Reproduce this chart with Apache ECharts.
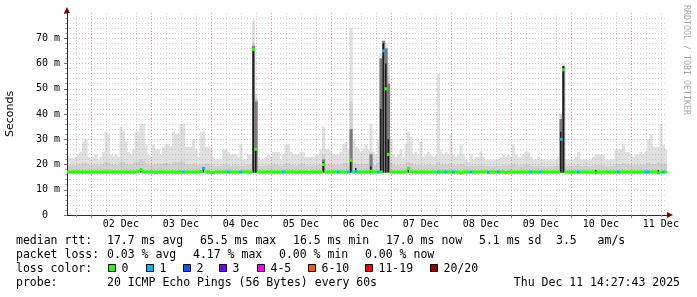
<!DOCTYPE html>
<html><head><meta charset="utf-8">
<script src="https://cdn.jsdelivr.net/npm/echarts@6/dist/echarts.min.js"></script>
<style>html,body{margin:0;padding:0;background:#fff}#c{width:697px;height:297px}</style>
</head><body><div id="c"></div>
<script>
// ---------------- data ----------------
// time axis: hours after 01 Dec 00:00; graph ends Thu Dec 11 14:27:43, spans 10 days
const START = 14 + 27/60 + 43/3600;
const SPAN = 240;
const dayLabels = ['02 Dec','03 Dec','04 Dec','05 Dec','06 Dec','07 Dec','08 Dec','09 Dec','10 Dec','11 Dec'];
const yLabels = ['0  ','10 m','20 m','30 m','40 m','50 m','60 m','70 m'];

// lower edge of the smoke (ms)
const smokeFloor = 16.8;
// hourly upper edge of the light smoke (ms)
const smokeUpper = [
23,22.5,22,23,24,25,29,30,23,22,
23,24,22,23,25,33,32,24,23,24,
23,35,33,29,25,24,26,33,33,36,
36,28,24,23,28,26,26,24,27,28,
28,27,33,32,32,36,36,27,27,27,
30,26,23,33,33,27,27,26,23,22,
22,22,26,26,25,24,24,24,23,28,
22,22,24,24,77,48,23,22,22,23,
24,23,25,25,25,22,24,28,28,25,
24,24,24,25,25,23,23,23,23,24,
24,26,35,26,26,25,24,24,24,25,
28,29,26,74,30,27,26,25,26,28,
26,36,25,24,30,64,69,68,60,30,
24,23,24,26,23,28,33,31,24,25,
24,29,23,24,25,24,23,24,56,26,
24,25,24,32,24,23,24,28,24,22,
21,24,22,23,23,25,23,22,22,21.7,
21.7,22,22,23,24,23,24,23,28,24,
23,23,24,25,25,23,22,22,23,22,
22,21.7,21.7,22,21.7,22,23,38,60,22,
22,22,22,23,25,22,22,22,21.7,22,
23,24,24,24,24,22,21.7,22,22,26,
26,26,28,25,25,24,23,24,24,25,
24,25,30,32,27,27,27,36,28,26
];
// hourly upper edge of the denser smoke near the median (ms)
const smokeMid = [
19.6,19.4,19.8,19.6,20.0,20.2,20.8,20.6,19.8,19.6,
19.8,20.0,19.6,19.8,20.2,21.0,20.8,20.0,19.8,20.0,
19.8,21.2,21.0,20.4,20.0,19.8,20.4,21.0,21.2,22.0,
21.6,20.4,19.8,19.6,19.8,20.2,20.4,20.0,20.4,20.6,
20.4,20.2,20.8,21.0,21.0,21.4,21.2,20.2,20.0,20.0,
20.4,19.8,19.6,19.8,20.0,20.4,20.2,20.0,19.6,19.4,
19.4,19.6,20.0,20.0,19.8,19.6,19.6,19.8,19.6,19.4,
19.4,19.6,19.8,20.0,68.0,46.0,19.6,19.4,19.4,19.6,
19.8,19.6,20.0,20.0,19.8,19.4,19.8,20.4,20.4,19.8,
19.8,19.6,19.8,20.0,20.0,19.6,19.6,19.6,19.6,19.8,
19.8,20.2,24.0,20.2,20.2,20.0,19.8,19.8,19.8,20.0,
20.4,20.6,20.2,45.0,20.6,20.2,20.2,20.0,20.2,20.4,
20.2,25.0,20.0,19.8,21.0,62.0,69.0,66.0,55.0,21.0,
19.8,19.6,19.8,20.0,19.6,20.2,21.0,20.6,19.8,19.8,
19.8,19.8,19.6,19.8,20.0,19.8,19.6,19.8,21.0,20.0,
19.8,20.0,19.8,20.6,19.8,19.6,19.8,20.2,19.8,19.4,
19.2,19.6,19.4,19.6,19.6,19.8,19.6,19.4,19.4,19.2,
19.2,19.4,19.4,19.6,19.8,19.6,19.8,19.6,20.2,19.8,
19.6,19.6,19.8,20.0,20.0,19.6,19.4,19.4,19.6,19.4,
19.4,19.2,19.2,19.4,19.2,19.4,19.6,40.0,59.0,19.4,
19.4,19.4,19.4,19.6,19.8,19.4,19.4,19.4,19.2,19.4,
19.6,19.8,19.8,19.8,19.8,19.4,19.2,19.4,19.4,20.0,
20.2,20.2,20.6,20.0,20.0,19.8,19.6,19.8,19.8,20.0,
19.8,20.0,20.6,20.2,20.2,20.2,20.8,20.2,20.4,20.0
];
// [hour index, top] of the deep grey smoke around the spikes
const smokeDeep = [[74,67],[75,45],[102,22],[113,34],[121,24],[125,62],[126,69],[127,66],[128,52],[197,38],[198,59]];
// [hour index, top] of the black core of the smoke
const smokeDark = [[29,18.6],[54,19.0],[74,65.5],[75,26],[102,21],[113,22],[115,18.6],[121,19.2],[125,42],[126,68],[127,60],[128,30],[136,19],[197,33],[198,59],[211,17.8],[236,17.8]];
// hourly median rtt (ms)
const medianRtt = [
17.0,17.0,17.0,17.0,17.0,17.0,17.0,17.0,17.0,17.0,
17.0,17.0,17.0,17.0,17.0,17.0,17.0,17.0,17.0,17.0,
17.0,17.0,17.0,17.0,17.0,17.0,17.0,17.0,17.2,18.0,
17.0,17.0,17.0,17.0,17.0,16.9,17.0,17.0,17.0,17.0,
17.0,17.0,17.0,16.9,17.0,17.0,17.0,17.0,17.0,17.0,
17.0,17.0,17.0,17.2,18.4,17.0,17.0,16.8,16.8,17.0,
17.0,17.0,17.0,17.0,17.0,17.0,17.0,17.0,17.0,17.0,
17.0,17.0,17.0,17.0,65.5,26.0,17.0,17.0,17.0,17.0,
17.0,17.0,17.0,17.0,17.0,17.0,17.0,17.0,17.0,17.0,
17.0,16.9,17.0,17.0,17.0,17.0,16.9,17.0,17.0,17.0,
17.0,17.0,20.0,17.0,17.0,17.0,17.0,17.0,17.0,17.0,
17.0,17.0,17.0,21.7,17.0,17.2,17.0,17.0,17.0,17.0,
17.0,17.4,17.0,17.0,17.0,17.0,65.0,50.0,24.0,17.0,
17.0,17.0,17.0,17.0,17.0,17.0,18.4,17.2,17.0,17.0,
17.0,17.0,17.0,17.0,17.0,17.0,17.0,17.0,17.0,17.0,
17.0,17.0,17.0,17.0,17.0,17.0,17.0,16.7,17.0,17.0,
17.0,17.0,17.0,17.0,17.0,17.0,17.0,17.0,16.9,17.0,
17.0,17.0,17.0,17.0,17.0,16.8,17.0,17.0,17.0,17.0,
17.0,17.0,17.0,17.0,17.0,17.0,17.0,17.0,17.0,17.0,
17.0,17.0,17.0,17.0,17.0,17.0,17.0,30.0,57.5,17.0,
17.0,17.0,17.0,17.0,17.0,17.0,17.0,17.0,17.0,17.0,
17.0,16.7,17.0,17.0,17.0,17.0,17.0,17.0,17.0,17.0,
17.0,17.0,17.0,17.0,17.0,17.0,17.0,17.0,17.0,17.0,
17.0,17.0,17.0,17.0,17.0,17.0,16.7,17.0,17.0,17.0
];
// hours with lost pings: [hour index, loss class]
const lossPoints = [[46,1],[54,1],[64,1],[69,1],[86,1],[108,1],[112,1],[115,1],[124,1],[126,1],[148,1],[151,1],[154,1],[161,1],[168,1],[172,1],[185,1],[189,1],[197,1],[204,1],[220,1],[231,1],[232,1],[238,1]];
const lossColors = ['#26ff00','#00b8ff','#0059ff','#7e00ff','#ff00ff','#ff5500','#ff0000','#a10000'];
const lossLabels = ['0','1','2','3','4-5','6-10','11-19','20/20'];
const rttStats = ['17.7 ms avg','65.5 ms max','16.5 ms min','17.0 ms now','5.1 ms sd','3.5   am/s'];
const lossStats = ['0.03 % avg','4.17 % max','0.00 % min','0.00 % now'];
const probeText = '20 ICMP Echo Pings (56 Bytes) every 60s';
const dateText = 'Thu Dec 11 14:27:43 2025';

// ---------------- layout ----------------
const PLOT_L = 67, PLOT_T = 13, PLOT_W = 600, PLOT_H = 202;
const PXH = PLOT_W / SPAN;
const MONO = '"DejaVu Sans Mono", monospace';
const GRID_MINOR = 'rgba(150,150,150,0.42)';
const GRID_MAJOR = 'rgba(225,95,95,0.5)';
const AXIS_C = '#2a2a2a';
const ARROW_C = '#7f0000';

function gridFor(h0, h1) {
  return { left: PLOT_L + (h0 - START) * PXH, top: PLOT_T, width: (h1 - h0) * PXH, height: PLOT_H,
           containLabel: false, outerBoundsMode: 'none' };
}

const lossAt = medianRtt.map(() => 0);
lossPoints.forEach(([i, l]) => { lossAt[i] = l; });

function band(color, narrow) {
  return function (params, api) {
    const x0 = api.value(0), lo = api.value(1), hi = api.value(2);
    const p0 = api.coord([x0, lo]);
    const p1 = api.coord([x0 + 1, hi]);
    const w = p1[0] - p0[0];
    return { type: 'rect', shape: { x: p0[0] + (narrow ? w * 0.2 : 0), y: p1[1], width: narrow ? w * 0.6 : w + 0.6, height: p0[1] - p1[1] },
             style: { fill: color } };
  };
}

const chart = echarts.init(document.getElementById('c'), null, { renderer: 'canvas' });

const option = {
  backgroundColor: '#ffffff',
  animation: false,
  grid: [gridFor(START, START + SPAN), gridFor(18, 252), gridFor(24, 240), gridFor(36, 252)],
  xAxis: [
    { gridIndex: 0, type: 'value', min: START, max: START + SPAN, z: 2,
      axisLine: { show: true, lineStyle: { color: AXIS_C, width: 1 } },
      axisTick: { show: false }, axisLabel: { show: false }, splitLine: { show: false } },
    { gridIndex: 0, type: 'value', position: 'bottom', min: START, max: START + SPAN, z: 3,
      axisLine: { show: true, symbol: ['none', 'triangle'], symbolSize: [6, 6], symbolOffset: [0, 3],
                  lineStyle: { color: ARROW_C, width: 0 } },
      axisTick: { show: false }, axisLabel: { show: false }, splitLine: { show: false } },
    { gridIndex: 1, type: 'value', min: 18, max: 252, interval: 6, z: 2,
      axisLine: { show: false }, axisLabel: { show: false },
      axisTick: { show: true, length: 2, lineStyle: { color: '#999' } },
      splitLine: { show: true, lineStyle: { color: GRID_MINOR, type: [1, 2], width: 1 } } },
    { gridIndex: 2, type: 'value', min: 24, max: 240, interval: 24, z: 2,
      axisLine: { show: false }, axisLabel: { show: false },
      axisTick: { show: true, length: 3, lineStyle: { color: '#b06060' } },
      splitLine: { show: true, lineStyle: { color: GRID_MAJOR, type: [1, 2], width: 1 } } },
    { gridIndex: 3, type: 'value', min: 36, max: 252, interval: 24, z: 2,
      axisLine: { show: false }, axisTick: { show: false }, splitLine: { show: false },
      axisLabel: { show: true, margin: 4, showMinLabel: true, showMaxLabel: true, hideOverlap: false,
                   fontFamily: MONO, fontSize: 10, color: '#000',
                   formatter: v => dayLabels[Math.round((v - 36) / 24)] || '' } }
  ],
  yAxis: [
    { gridIndex: 0, type: 'value', min: 0, max: 80, interval: 10, z: 2,
      axisLine: { show: true, lineStyle: { color: AXIS_C, width: 1 } },
      axisTick: { show: true, length: 3, lineStyle: { color: '#b06060' } },
      minorTick: { show: true, splitNumber: 5, length: 2, lineStyle: { color: '#aaa' } },
      axisLabel: { show: true, margin: 7, showMaxLabel: false, fontFamily: MONO, fontSize: 10, color: '#000',
                   formatter: v => yLabels[Math.round(v / 10)] || '' },
      splitLine: { show: true, showMinLine: false, showMaxLine: false, lineStyle: { color: GRID_MAJOR, type: [1, 2], width: 1 } },
      minorSplitLine: { show: true, lineStyle: { color: GRID_MINOR, type: [1, 2], width: 1 } } },
    { gridIndex: 0, type: 'value', position: 'left', min: 0, max: 80, z: 3,
      axisLine: { show: true, symbol: ['none', 'triangle'], symbolSize: [6, 6], symbolOffset: [0, 3],
                  lineStyle: { color: ARROW_C, width: 0 } },
      axisTick: { show: false }, axisLabel: { show: false }, splitLine: { show: false } },
    { gridIndex: 1, type: 'value', min: 0, max: 80, show: false },
    { gridIndex: 2, type: 'value', min: 0, max: 80, show: false },
    { gridIndex: 3, type: 'value', min: 0, max: 80, show: false }
  ],
  series: [
    { type: 'custom', name: 'smoke', xAxisIndex: 0, yAxisIndex: 0, z: 1, clip: true, silent: true,
      encode: { x: 0, y: [1, 2] }, renderItem: band('#e0e0e0'),
      data: smokeUpper.map((u, i) => [START + i, smokeFloor, u]) },
    { type: 'custom', name: 'smokeMid', xAxisIndex: 0, yAxisIndex: 0, z: 1, clip: true, silent: true,
      encode: { x: 0, y: [1, 2] }, renderItem: band('#cfcfcf'),
      data: smokeMid.map((u, i) => [START + i, smokeFloor, u]) },
    { type: 'custom', name: 'smokeDeep', xAxisIndex: 0, yAxisIndex: 0, z: 3, clip: true, silent: true,
      encode: { x: 0, y: [1, 2] }, renderItem: band('#7c7c7c'),
      data: smokeDeep.map(([i, u]) => [START + i, smokeFloor, u]) },
    { type: 'custom', name: 'smokeDark', xAxisIndex: 0, yAxisIndex: 0, z: 3, clip: true, silent: true,
      encode: { x: 0, y: [1, 2] }, renderItem: band('#1c1c1c', true),
      data: smokeDark.map(([i, u]) => [START + i, smokeFloor, u]) },
    { type: 'custom', name: 'median rtt', xAxisIndex: 0, yAxisIndex: 0, z: 4, clip: true, silent: true,
      encode: { x: 0, y: 1 },
      renderItem: function (params, api) {
        const x0 = api.value(0), v = api.value(1), l = api.value(2);
        const p0 = api.coord([x0, v]);
        const p1 = api.coord([x0 + 1, v]);
        return { type: 'rect', shape: { x: p0[0], y: p0[1] - 1.5, width: p1[0] - p0[0] + 0.6, height: 3 },
                 style: { fill: lossColors[l] } };
      },
      data: medianRtt.map((v, i) => [START + i, v, lossAt[i]]) }
  ],
  graphic: []
};

// axis title and watermark
const g = option.graphic;
g.push({ type: 'text', x: 10, y: 114, rotation: Math.PI / 2, silent: true,
  style: { text: 'Seconds', font: '11px "DejaVu Sans", sans-serif', fill: '#000', align: 'center', verticalAlign: 'middle' } });
g.push({ type: 'text', x: 686.5, y: 60, rotation: -Math.PI / 2, silent: true,
  style: { text: 'RRDTOOL / TOBI OETIKER', font: '8.3px ' + MONO, fill: '#a8a8a8', align: 'center', verticalAlign: 'middle' } });

// legend block
const LEG_FONT = '11.5px ' + MONO;
function txt(s, x, y, align) {
  g.push({ type: 'text', x: x, y: y, silent: true,
    style: { text: s, font: LEG_FONT, fill: '#000', align: align || 'left', verticalAlign: 'middle' } });
}
const ROW = [241, 255, 269, 283];
txt('median rtt:', 16, ROW[0]);
[107, 200, 293, 386, 479, 556].forEach((x, k) => txt(rttStats[k], x, ROW[0]));
txt('packet loss:', 16, ROW[1]);
[107, 193, 279, 365].forEach((x, k) => txt(lossStats[k], x, ROW[1]));
txt('loss color:', 16, ROW[2]);
const boxX = [108, 146, 183, 219, 257, 308, 365, 430];
boxX.forEach((x, k) => {
  g.push({ type: 'rect', x: x + 0.5, y: ROW[2] - 4.5, silent: true, shape: { x: 0, y: 0, width: 7, height: 7 },
    style: { fill: lossColors[k], stroke: '#000', lineWidth: 1 } });
  txt(lossLabels[k], x + 13.5, ROW[2]);
});
txt('probe:', 16, ROW[3]);
txt(probeText, 107, ROW[3]);
txt(dateText, 680, ROW[3], 'right');

chart.setOption(option);
</script></body></html>
